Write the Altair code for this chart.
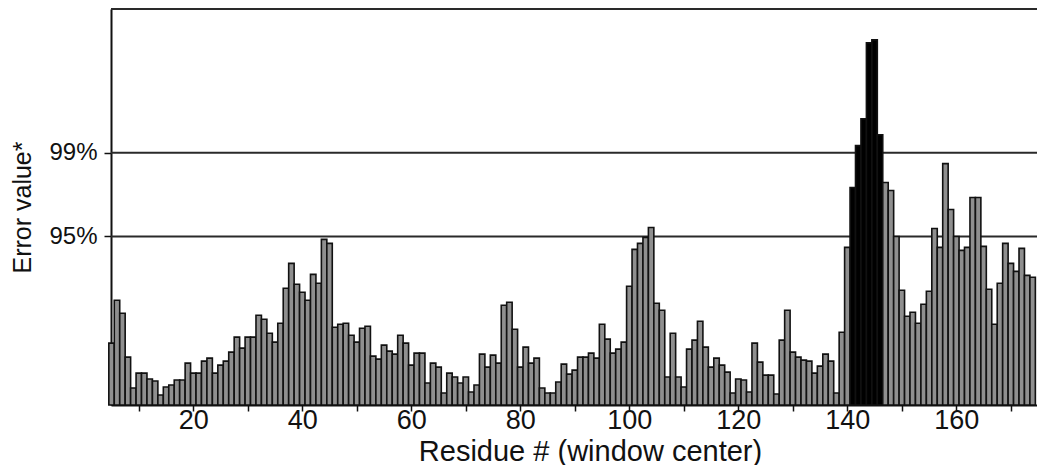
import altair as alt
import pandas as pd

# ---- data ----
residues = list(range(5, 175))
error_values = [
    6.2, 10.5, 9.2, 4.8, 1.7, 3.2, 3.2, 2.6, 2.4, 1.0,
    1.8, 2.0, 2.5, 2.5, 4.2, 3.2, 3.2, 4.4, 4.7, 3.2,
    4.0, 4.4, 5.3, 6.8, 5.7, 6.8, 6.8, 9.0, 8.6, 7.2,
    6.3, 8.2, 11.7, 14.2, 12.1, 11.3, 10.5, 13.1, 12.2, 16.6,
    16.2, 7.8, 8.1, 8.2, 7.0, 6.3, 7.7, 7.9, 4.9, 4.6,
    6.0, 5.4, 5.1, 7.0, 6.2, 4.0, 5.2, 5.2, 2.2, 4.2,
    3.8, 1.2, 3.2, 2.8, 2.2, 2.8, 1.3, 2.0, 5.1, 3.8,
    5.0, 4.2, 10.0, 10.3, 7.6, 3.8, 5.8, 4.2, 4.7, 1.7,
    1.2, 1.2, 2.3, 4.1, 3.1, 3.5, 4.8, 4.8, 5.2, 4.7,
    8.1, 6.6, 5.2, 5.6, 6.3, 11.9, 15.6, 16.2, 16.8, 17.8,
    10.2, 9.5, 2.8, 7.2, 2.8, 1.8, 5.6, 6.5, 8.4, 5.8,
    3.8, 4.7, 4.0, 3.3, 1.2, 2.6, 2.5, 1.3, 6.2, 4.3,
    3.0, 3.0, 1.1, 6.5, 9.5, 5.3, 4.8, 4.5, 4.4, 3.2,
    3.9, 5.1, 4.4, 1.2, 7.3, 15.8, 21.8, 26.0, 28.7, 36.3,
    36.6, 27.1, 22.3, 21.5, 16.9, 11.5, 8.9, 9.3, 8.2, 10.1,
    11.4, 17.7, 15.8, 24.2, 19.6, 16.9, 15.5, 15.8, 20.8, 20.8,
    15.9, 11.6, 8.1, 12.2, 16.2, 14.2, 13.4, 15.7, 13.0, 12.8,
]
highlighted = [141, 142, 143, 144, 145, 146]
threshold_values = [16.9, 25.3]
threshold_labels = ["95%", "99%"]
x_tick_values = list(range(10, 180, 10))
X_DOMAIN = [4.9, 174.8]
Y_MAX = 39.7

FONT = "Liberation Sans"
PLOT_W, PLOT_H = 926, 396

df = pd.DataFrame({"residue": residues, "error": error_values})
df["start"] = df["residue"] - 0.5
df["end"] = df["residue"] + 0.5
df["sig"] = df["residue"].isin(highlighted)

thr = pd.DataFrame({"value": threshold_values + [Y_MAX]})

label_expr = " : ".join(
    f"abs(datum.value - {v}) < 0.01 ? '{l}'" for v, l in zip(threshold_values, threshold_labels)
) + " : ''"

x_scale = alt.Scale(domain=X_DOMAIN, nice=False, zero=False)
y_scale = alt.Scale(domain=[0, Y_MAX], nice=False)

rules = alt.Chart(thr).mark_rule(color="#2a2a2a", strokeWidth=2).encode(
    y=alt.Y("value:Q", scale=y_scale)
)

bars = alt.Chart(df).mark_bar(stroke="#111111", strokeWidth=1.6).encode(
    x=alt.X(
        "start:Q",
        scale=x_scale,
        axis=alt.Axis(
            title="Residue # (window center)",
            values=x_tick_values,
            labelExpr="datum.value % 20 == 0 ? datum.label : ''",
            grid=False,
            tickSize=6,
            tickColor="#111",
            tickWidth=1.5,
            domainColor="#111",
            domainWidth=2,
            labelFont=FONT,
            labelFontSize=27,
            labelColor="#111",
            labelBaseline="alphabetic",
            labelPadding=17,
            titleFont=FONT,
            titleFontSize=29,
            titleFontWeight="normal",
            titleColor="#111",
            titleBaseline="alphabetic",
            titleAlign="center",
            titleX=479,
            titleY=55,
        ),
    ),
    x2="end:Q",
    y=alt.Y(
        "error:Q",
        scale=y_scale,
        axis=alt.Axis(
            title="Error value*",
            values=threshold_values,
            labelExpr=label_expr,
            grid=False,
            tickSize=7,
            tickColor="#111",
            tickWidth=1.5,
            domainColor="#111",
            domainWidth=2,
            labelFont=FONT,
            labelFontSize=24,
            labelColor="#111",
            labelPadding=7,
            titleFont=FONT,
            titleFontSize=25,
            titleFontWeight="normal",
            titleColor="#111",
            titleAngle=270,
            titleAlign="center",
            titleBaseline="alphabetic",
            titleX=-81,
            titleY=PLOT_H * 0.5,
        ),
    ),
    y2=alt.datum(0),
    color=alt.condition(alt.datum.sig, alt.value("#000000"), alt.value("#8f8f8f")),
)

chart = (
    alt.layer(rules, bars)
    .properties(
        width=PLOT_W,
        height=PLOT_H,
        autosize=alt.AutoSizeParams(type="none"),
        padding={"left": 103, "top": 1, "right": 0, "bottom": 60},
    )
    .configure_view(stroke=None)
    .configure(background="white")
)

chart.save("out.html", embed_options={"renderer": "svg", "actions": False})
